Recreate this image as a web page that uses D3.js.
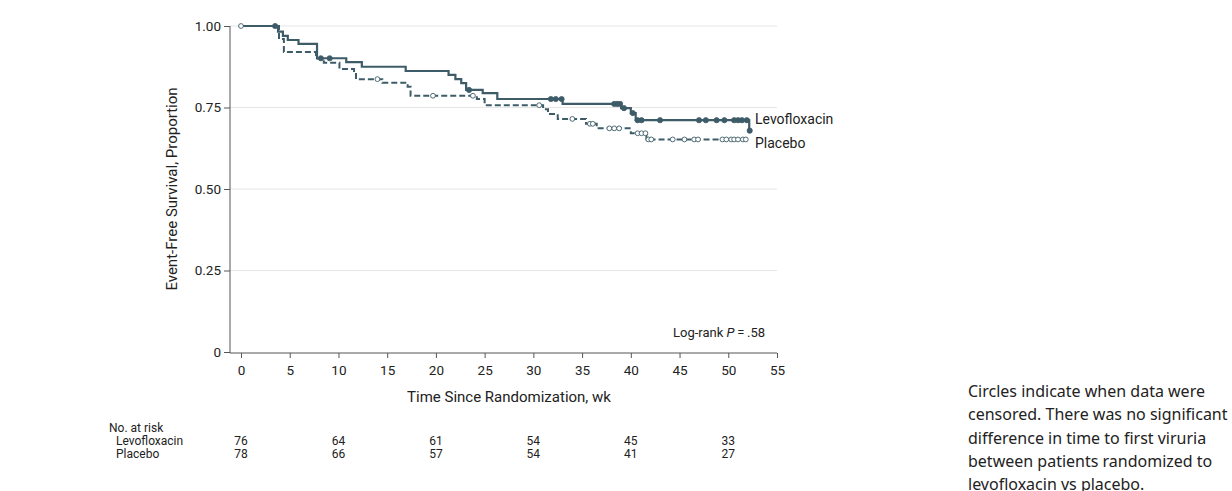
<!DOCTYPE html>
<html>
<head>
<meta charset="utf-8">
<script src="https://cdn.jsdelivr.net/npm/d3@7"></script>
<style>
  body { margin: 0; background: #fff; }
  svg text { font-family: Roboto, "DejaVu Sans Condensed", sans-serif; fill: #222; }
</style>
</head>
<body>
<div id="km"></div>
<script>
// step times (wk) and survival after each step
const levoTimes = [3.8, 4.3, 4.8, 5.9, 7.8, 10.8, 12.4, 16.9, 21.3, 22.0, 22.6, 23.1, 24.8, 26.3, 33.0, 39.0, 40.0, 40.5, 52.15];
const levoSurv  = [0.983, 0.970, 0.957, 0.945, 0.901, 0.889, 0.875, 0.862, 0.850, 0.837, 0.825, 0.804, 0.794, 0.776, 0.761, 0.748, 0.733, 0.711, 0.679];
const levoEnd = 52.2;
const levoCensor = [3.5, 8.2, 9.1, 23.4, 31.8, 32.3, 32.9, 38.3, 38.6, 38.9, 39.3, 40.2, 40.7, 41.1, 43.0, 47.0, 47.7, 48.8, 49.6, 50.6, 51.0, 51.4, 51.9, 52.2];

const placTimes = [3.9, 4.4, 7.7, 8.5, 10.1, 11.6, 11.8, 14.5, 17.1, 17.4, 24.2, 25.0, 31.0, 31.5, 32.5, 35.4, 36.5, 40.0, 41.6];
const placSurv  = [0.960, 0.920, 0.900, 0.887, 0.868, 0.856, 0.837, 0.826, 0.814, 0.786, 0.776, 0.757, 0.745, 0.730, 0.715, 0.700, 0.686, 0.671, 0.652];
const placEnd = 52.0;
const placCensor = [0, 14.0, 19.7, 23.8, 30.6, 34.0, 35.8, 36.1, 37.8, 38.3, 38.8, 40.7, 41.1, 41.5, 41.8, 42.1, 44.3, 45.5, 46.5, 46.9, 49.4, 49.8, 50.3, 50.6, 51.0, 51.5, 51.8];

const xTicks = [0, 5, 10, 15, 20, 25, 30, 35, 40, 45, 50, 55];
const yTicks = [0, 0.25, 0.5, 0.75, 1];
const yTickLabels = ["0", "0.25", "0.50", "0.75", "1.00"];

const riskTimes = [0, 10, 20, 30, 40, 50];
const riskLevo = [76, 64, 61, 54, 45, 33];
const riskPlac = [78, 66, 57, 54, 41, 27];

const lineColor = "#3d5c68";

const W = 1232, H = 491;
const svg = d3.select("#km").append("svg").attr("width", W).attr("height", H);

const x = d3.scaleLinear().domain([0, 55]).range([241, 777]);
const y = d3.scaleLinear().domain([0, 1]).range([352, 26]);
const axisLeftX = 230;

// gridlines
svg.append("g").selectAll("line")
  .data(yTicks.filter(d => d > 0))
  .enter().append("line")
    .attr("x1", axisLeftX).attr("x2", x(55))
    .attr("y1", d => y(d)).attr("y2", d => y(d))
    .attr("stroke", "#e6e6e6").attr("stroke-width", 1.2);

// y axis
const yAxis = svg.append("g")
  .attr("transform", "translate(" + axisLeftX + ",0)")
  .call(d3.axisLeft(y).tickValues(yTicks).tickFormat((d, i) => yTickLabels[i]).tickSize(6).tickSizeOuter(0));
yAxis.select(".domain").attr("stroke", "#555").attr("d", "M0," + y(1) + "V" + (y(0) + 1));
yAxis.selectAll(".tick line").attr("stroke", "#555");
yAxis.selectAll("text").attr("font-size", 13.5).attr("x", -9);

// x axis
const xAxis = svg.append("g")
  .attr("transform", "translate(0," + (y(0) + 1) + ")")
  .call(d3.axisBottom(x).tickValues(xTicks).tickSize(5).tickSizeOuter(0));
xAxis.select(".domain").attr("stroke", "#555").attr("d", "M" + axisLeftX + ",0H" + x(55));
xAxis.selectAll(".tick line").attr("stroke", "#555");
xAxis.selectAll("text").attr("font-size", 13.5).attr("dy", "1.05em");

// axis titles
svg.append("text")
  .attr("transform", "translate(177," + y(0.5) + ") rotate(-90)")
  .attr("text-anchor", "middle").attr("font-size", 15)
  .text("Event-Free Survival, Proportion");
svg.append("text")
  .attr("x", x(27.5)).attr("y", 402)
  .attr("text-anchor", "middle").attr("font-size", 15)
  .text("Time Since Randomization, wk");

// step data
function stepData(times, surv, end) {
  const pts = [{ t: 0, s: 1 }];
  times.forEach((t, i) => pts.push({ t: t, s: surv[i] }));
  pts.push({ t: end, s: surv[surv.length - 1] });
  return pts;
}
function survAt(times, surv, t) {
  let s = 1;
  times.forEach((tt, i) => { if (tt <= t) s = surv[i]; });
  return s;
}

const line = d3.line().x(d => x(d.t)).y(d => y(d.s)).curve(d3.curveStepAfter);

svg.append("path")
  .datum(stepData(placTimes, placSurv, placEnd))
  .attr("fill", "none").attr("stroke", lineColor).attr("stroke-width", 2)
  .attr("stroke-dasharray", "6,3")
  .attr("d", line);

svg.append("path")
  .datum(stepData(levoTimes, levoSurv, levoEnd))
  .attr("fill", "none").attr("stroke", lineColor).attr("stroke-width", 2.2)
  .attr("d", line);

// censor marks
svg.append("g").selectAll("circle")
  .data(placCensor)
  .enter().append("circle")
    .attr("cx", d => x(d))
    .attr("cy", d => y(survAt(placTimes, placSurv, d)))
    .attr("r", 2.4)
    .attr("fill", "#fff").attr("stroke", lineColor).attr("stroke-width", 0.9);

svg.append("g").selectAll("circle")
  .data(levoCensor)
  .enter().append("circle")
    .attr("cx", d => x(d))
    .attr("cy", d => y(survAt(levoTimes, levoSurv, d)))
    .attr("r", 2.6)
    .attr("fill", lineColor).attr("stroke", lineColor).attr("stroke-width", 0.8);

// labels
svg.append("text").attr("x", 755).attr("y", 124).attr("font-size", 14).text("Levofloxacin");
svg.append("text").attr("x", 755).attr("y", 148).attr("font-size", 14).text("Placebo");

const lr = svg.append("text").attr("x", 765).attr("y", 337).attr("text-anchor", "end").attr("font-size", 13);
lr.append("tspan").text("Log-rank ");
lr.append("tspan").attr("font-style", "italic").text("P");
lr.append("tspan").text("\u2009=\u2009.58");

// number at risk
svg.append("text").attr("x", 109).attr("y", 432).attr("font-size", 12).text("No. at risk");
svg.append("text").attr("x", 116).attr("y", 445).attr("font-size", 12).text("Levofloxacin");
svg.append("text").attr("x", 116).attr("y", 458).attr("font-size", 12).text("Placebo");

svg.append("g").selectAll("text")
  .data(riskLevo)
  .enter().append("text")
    .attr("x", (d, i) => x(riskTimes[i])).attr("y", 445)
    .attr("text-anchor", "middle").attr("font-size", 12)
    .text(d => d);
svg.append("g").selectAll("text")
  .data(riskPlac)
  .enter().append("text")
    .attr("x", (d, i) => x(riskTimes[i])).attr("y", 458)
    .attr("text-anchor", "middle").attr("font-size", 12)
    .text(d => d);

// caption
const caption = ["Circles indicate when data were", "censored. There was no significant",
  "difference in time to first viruria", "between patients randomized to", "levofloxacin vs placebo."];
svg.append("g").selectAll("text")
  .data(caption)
  .enter().append("text")
    .attr("x", 968).attr("y", (d, i) => 397 + i * 23.3)
    .attr("font-size", 16)
    .style("font-family", "'Noto Sans', 'Open Sans', sans-serif")
    .text(d => d);
</script>
</body>
</html>
